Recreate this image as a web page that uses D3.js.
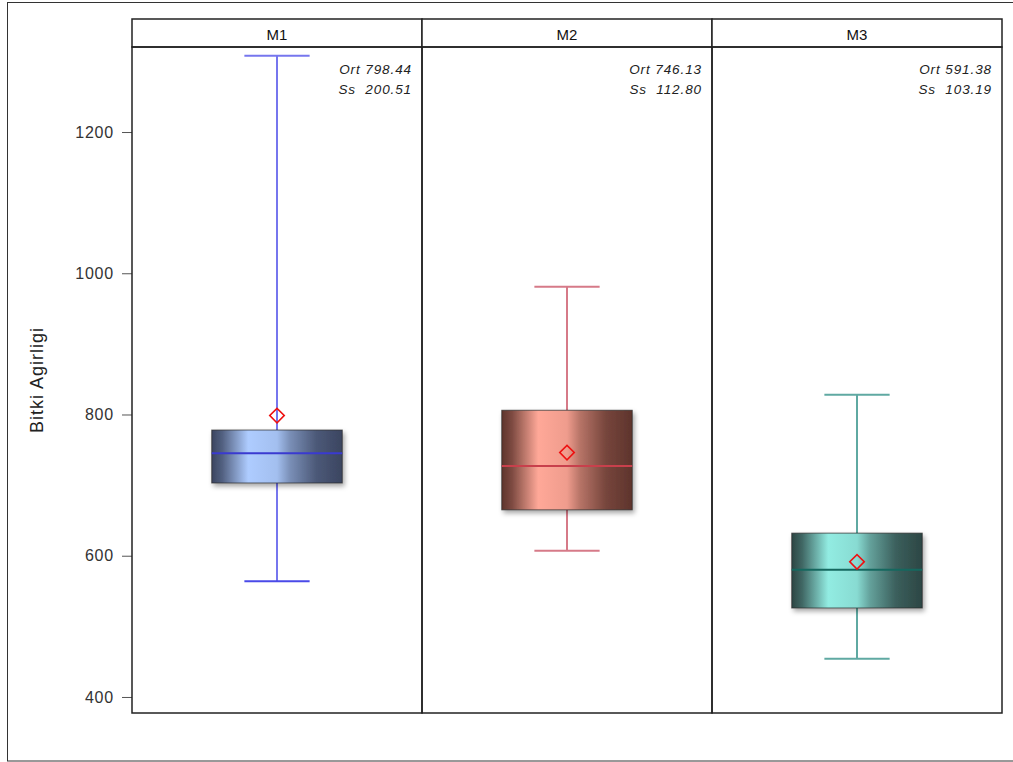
<!DOCTYPE html>
<html>
<head>
<meta charset="utf-8">
<script src="https://cdn.jsdelivr.net/npm/d3@7"></script>
<style>
	body { margin: 0; background: #fff; }
	svg { font-family: "Liberation Sans", Arial, sans-serif; }
</style>
</head>
<body>
<svg id="chart" width="1013" height="762"></svg>
<script>
const groups = ["M1", "M2", "M3"]
const whiskerLow = [564, 607, 454]
const q1 = [703, 665, 526]
const median = [745, 727, 580]
const q3 = [778, 806, 632]
const whiskerHigh = [1308, 981, 828]
const means = [798.44, 746.13, 591.38]
const stdDevs = [200.51, 112.80, 103.19]
const yTicks = [400, 600, 800, 1000, 1200]

const palette = [
	{ dark: "#3b4560", light: "#aeccff", line: "#7676ee", med: "#3a3ad0" },
	{ dark: "#5e342c", light: "#ffa898", line: "#d67a88", med: "#c8404c" },
	{ dark: "#2c4644", light: "#92ece2", line: "#5fa9a2", med: "#15685f" }
]

const svg = d3.select("#chart")
const plotLeft = 132, plotRight = 1002, plotTop = 19, head = 28, plotBottom = 713

svg.append("rect")
	.attr("x", 7.5).attr("y", 2.5).attr("width", 1010).attr("height", 758.5)
	.attr("fill", "none").attr("stroke", "#333").attr("stroke-width", 1)

const y = d3.scaleLinear().domain([377.3, 1320.4]).range([plotBottom, plotTop + head])
const x = d3.scaleBand().domain(groups).range([plotLeft, plotRight])

const defs = svg.append("defs")
const shadow = defs.append("filter").attr("id", "shadow")
	.attr("x", "-20%").attr("y", "-20%").attr("width", "140%").attr("height", "140%")
shadow.append("feDropShadow").attr("dx", 2).attr("dy", 3).attr("stdDeviation", 2.5)
	.attr("flood-color", "#000").attr("flood-opacity", 0.35)

palette.forEach((p, i) => {
	const g = defs.append("linearGradient").attr("id", "grad" + i)
		.attr("x1", "0%").attr("x2", "100%").attr("y1", "0%").attr("y2", "0%")
	const mix = t => d3.interpolateRgb(p.light, p.dark)(t)
	const stops = [[0, p.dark], [0.08, mix(0.8)], [0.28, p.light], [0.5, mix(0.1)], [0.6, mix(0.45)], [0.8, mix(0.85)], [1, p.dark]]
	stops.forEach(s => g.append("stop").attr("offset", s[0]).attr("stop-color", s[1]))
})

// y axis
const axis = svg.append("g").attr("transform", `translate(${plotLeft},0)`)
	.call(d3.axisLeft(y).tickValues(yTicks).tickSize(10).tickPadding(8).tickFormat(d3.format("d")))
axis.select(".domain").remove()
axis.selectAll("line").attr("stroke", "#555")
axis.selectAll("text").attr("font-size", 16).attr("letter-spacing", 0.8).attr("fill", "#333")

svg.append("text")
	.attr("transform", `translate(43,${(plotTop + head + plotBottom) / 2}) rotate(-90)`)
	.attr("text-anchor", "middle").attr("font-size", 18).attr("letter-spacing", 1).attr("fill", "#222")
	.text("Bitki Agirligi")

const panels = svg.selectAll(".panel")
	.data(groups)
	.enter()
	.append("g")
	.attr("class", "panel")

panels.each(function (name, i) {
	const g = d3.select(this)
	const x0 = x(name), w = x.bandwidth(), cx = x0 + w / 2
	const bw = w * 0.45, cw = w * 0.225
	const p = palette[i]

	g.append("rect").attr("x", x0).attr("y", plotTop).attr("width", w).attr("height", head)
		.attr("fill", "#fff").attr("stroke", "#222").attr("stroke-width", 1.5)
	g.append("text").attr("x", cx).attr("y", plotTop + 21).attr("text-anchor", "middle")
		.attr("font-size", 15).attr("fill", "#111").text(name)

	// whiskers
	g.append("line").attr("x1", cx).attr("x2", cx).attr("y1", y(whiskerHigh[i])).attr("y2", y(q3[i]))
		.attr("stroke", p.line).attr("stroke-width", 2)
	g.append("line").attr("x1", cx).attr("x2", cx).attr("y1", y(q1[i])).attr("y2", y(whiskerLow[i]))
		.attr("stroke", p.line).attr("stroke-width", 2)
	g.append("line").attr("x1", cx - cw / 2).attr("x2", cx + cw / 2).attr("y1", y(whiskerHigh[i])).attr("y2", y(whiskerHigh[i]))
		.attr("stroke", p.line).attr("stroke-width", 2)
	g.append("line").attr("x1", cx - cw / 2).attr("x2", cx + cw / 2).attr("y1", y(whiskerLow[i])).attr("y2", y(whiskerLow[i]))
		.attr("stroke", i == 0 ? "#4a4ae8" : p.line).attr("stroke-width", 2)

	// box
	g.append("rect").attr("x", cx - bw / 2).attr("y", y(q3[i])).attr("width", bw).attr("height", y(q1[i]) - y(q3[i]))
		.attr("fill", `url(#grad${i})`).attr("stroke", "#2a2a2a").attr("stroke-opacity", 0.7)
		.attr("filter", "url(#shadow)")
	g.append("line").attr("x1", cx - bw / 2).attr("x2", cx + bw / 2).attr("y1", y(median[i])).attr("y2", y(median[i]))
		.attr("stroke", p.med).attr("stroke-width", 2)

	// mean
	g.append("path")
		.attr("d", d3.symbol().type(d3.symbolSquare).size(105))
		.attr("transform", `translate(${cx},${y(means[i])}) rotate(45)`)
		.attr("fill", "none").attr("stroke", "#ee1111").attr("stroke-width", 1.6)

	// stats
	g.append("text").attr("x", x0 + w - 10).attr("y", 74).attr("text-anchor", "end")
		.attr("font-size", 13.5).attr("font-style", "italic").attr("letter-spacing", 0.9).attr("fill", "#222")
		.attr("xml:space", "preserve").text("Ort " + means[i].toFixed(2))
	g.append("text").attr("x", x0 + w - 10).attr("y", 94).attr("text-anchor", "end")
		.attr("font-size", 13.5).attr("font-style", "italic").attr("letter-spacing", 0.9).attr("fill", "#222")
		.attr("xml:space", "preserve").text("Ss  " + stdDevs[i].toFixed(2))

	g.append("rect").attr("x", x0).attr("y", plotTop + head).attr("width", w).attr("height", plotBottom - plotTop - head)
		.attr("fill", "none").attr("stroke", "#222").attr("stroke-width", 1.5)
})
</script>
</body>
</html>
